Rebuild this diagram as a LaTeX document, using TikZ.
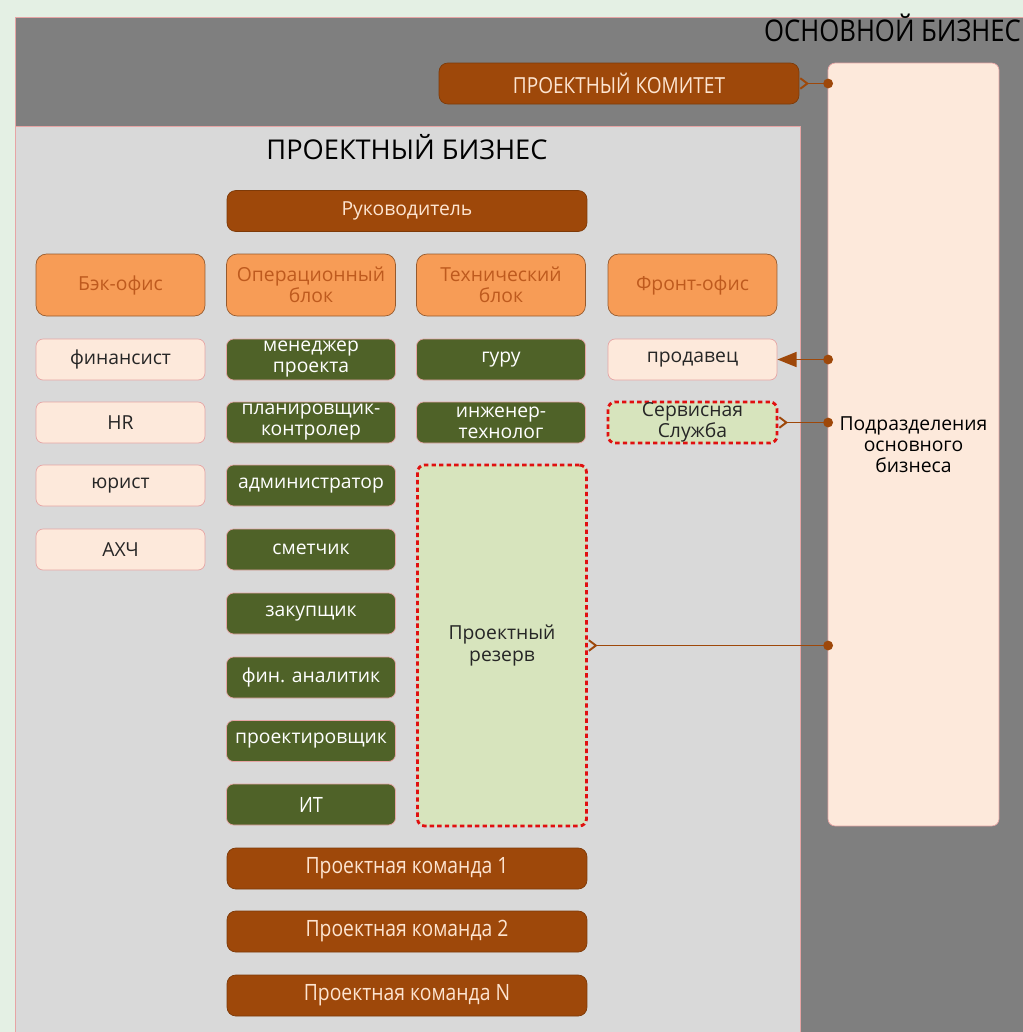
\documentclass[tikz,border=0pt]{standalone}
\usepackage{fontspec}
\setmainfont{Open Sans}
\newfontfamily\condfont[FakeStretch=0.86]{Open Sans}
\usepackage{xcolor}
\usetikzlibrary{positioning, arrows.meta}

\definecolor{mintbg}{RGB}{228,240,228}
\definecolor{darkgrey}{RGB}{127,127,127}
\definecolor{lightgrey}{RGB}{217,217,217}
\definecolor{pinkline}{RGB}{230,165,165}
\definecolor{peach}{RGB}{253,233,219}
\definecolor{rust}{RGB}{158,72,10}
\definecolor{rusttext}{RGB}{253,228,208}
\definecolor{headfill}{RGB}{247,156,86}
\definecolor{headtext}{RGB}{190,90,30}
\definecolor{headline}{RGB}{150,90,45}
\definecolor{olive}{RGB}{79,98,40}
\definecolor{palegreen}{RGB}{215,228,189}
\definecolor{dashred}{RGB}{224,16,16}

\begin{document}
\begin{tikzpicture}[
    x=0.02cm, y=-0.02cm,
    every node/.style={font=\fontsize{11}{12}\selectfont},
    wide/.style={draw=rust!80!black, fill=rust, text=rusttext, rounded corners=5pt,
        minimum width=7.2cm, minimum height=0.82cm, inner sep=1pt},
    header/.style={draw=headline, fill=headfill, text=headtext, rounded corners=6pt,
        minimum width=3.38cm, minimum height=1.24cm, align=center, inner sep=1pt},
    staff/.style={draw=pinkline, fill=peach, text=black!85, rounded corners=4pt,
        minimum width=3.38cm, minimum height=0.82cm, align=center, inner sep=1pt},
    role/.style={draw=pinkline, fill=olive, text=white, rounded corners=4pt,
        minimum width=3.38cm, minimum height=0.82cm, align=center, inner sep=0pt},
    reserve/.style={draw=dashred, line width=1.6pt, dash pattern=on 2.5pt off 1.8pt,
        fill=palegreen, text=black!85, rounded corners=4pt,
        minimum width=3.38cm, align=center, inner sep=0pt},
    teamfont/.style={font=\condfont\fontsize{12.8}{13}\selectfont},
    link/.style={draw=rust, line width=1.1pt}
]
\useasboundingbox (0,0) rectangle (1023,1032);

% Background areas
\fill[mintbg] (0,0) rectangle (1023,1032);
\draw[pinkline, fill=darkgrey] (15,17) rectangle (1030,1040);
\draw[pinkline, fill=lightgrey] (15,126) rectangle (800,1040);

\node[anchor=west, font=\condfont\fontsize{17}{17}\selectfont] (mainbiz) at (758,28) {ОСНОВНОЙ БИЗНЕС};
\node[font=\fontsize{15.5}{16}\selectfont] (projbiz) at (407,147) {ПРОЕКТНЫЙ БИЗНЕС};

% Main business
\node[wide, font=\condfont\fontsize{12.6}{13}\selectfont] (komitet) at (619,83.5) {ПРОЕКТНЫЙ КОМИТЕТ};
\node[draw=pinkline, fill=peach, rounded corners=4pt, minimum width=3.42cm,
      minimum height=15.26cm, align=center] (podr) at (913.5,444.5)
      {Подразделения\\основного\\бизнеса};

% Head
\node[wide] (boss) at (407,211) {Руководитель};

% Blocks
\node[header] (back) at (120.5,285) {Бэк-офис};
\node[header] (oper) at (311,285) {Операционный\\блок};
\node[header] (tech) at (501,285) {Технический\\блок};
\node[header] (front) at (692.5,285) {Фронт-офис};

% Back office
\node[staff] (fin) at (120.5,359.5) {финансист};
\node[staff] (hr) at (120.5,422.5) {HR};
\node[staff] (law) at (120.5,485.5) {юрист};
\node[staff] (ahch) at (120.5,549.5) {АХЧ};

% Operations
\node[role] (pm) at (311,359.5) {менеджер\\проекта};
\node[role] (plan) at (311,422.5) {планировщик-\\контролер};
\node[role] (admin) at (311,485.5) {администратор};
\node[role] (est) at (311,549.5) {сметчик};
\node[role] (buy) at (311,613.5) {закупщик};
\node[role] (analyst) at (311,677.5) {фин. аналитик};
\node[role] (design) at (311,741) {проектировщик};
\node[role, font=\condfont\fontsize{12}{12}\selectfont] (it) at (311,804.5) {ИТ};

% Technical
\node[role] (guru) at (501,359.5) {гуру};
\node[role] (eng) at (501,422.5) {инженер-\\технолог};
\node[reserve, minimum height=7.22cm] (pool) at (502,645.5) {Проектный\\резерв};

% Front office
\node[staff] (sales) at (692.5,359.5) {продавец};
\node[reserve, minimum height=0.82cm] (service) at (692.5,422.5) {Сервисная\\Служба};

% Project teams
\node[wide, teamfont] (team1) at (407,868.5) {Проектная команда 1};
\node[wide, teamfont] (team2) at (407,931.5) {Проектная команда 2};
\node[wide, teamfont] (teamN) at (407,995.5) {Проектная команда N};

% Links to main business
\draw[link, {Circle[length=5.5pt]}-{Straight Barb[reversed, length=4pt, width=6pt]}]
    ([xshift=3pt]komitet.east -| podr.west) -- (komitet.east);
\draw[link, {Circle[length=5.5pt]}-{Triangle[length=11pt, width=8.5pt]}]
    ([xshift=3pt]sales.east -| podr.west) -- (sales.east);
\draw[link, {Circle[length=5.5pt]}-{Straight Barb[reversed, length=4pt, width=6pt]}]
    ([xshift=3pt]service.east -| podr.west) -- (service.east);
\draw[link, {Circle[length=5.5pt]}-{Straight Barb[reversed, length=4pt, width=6pt]}]
    ([xshift=3pt]pool.east -| podr.west) -- (pool.east);

\end{tikzpicture}
\end{document}
